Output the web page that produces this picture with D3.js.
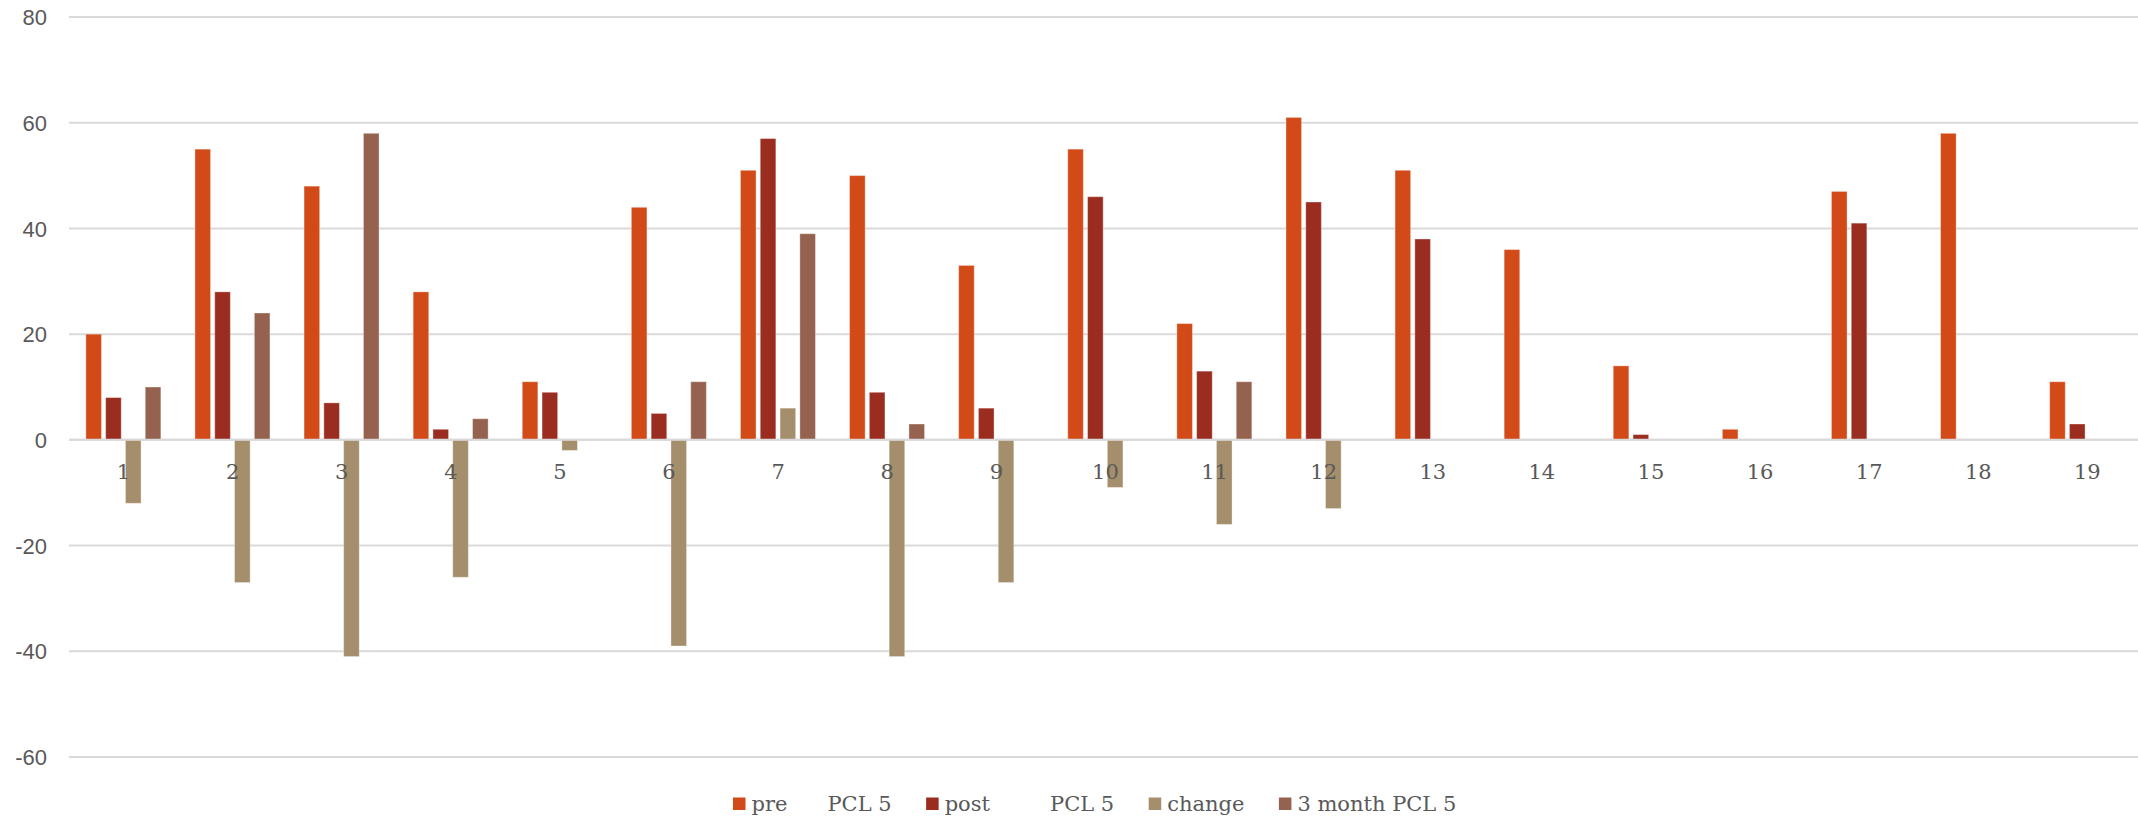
<!DOCTYPE html>
<html>
<head>
<meta charset="utf-8">
<script src="https://cdn.jsdelivr.net/npm/d3@7"></script>
<style>
  html, body { margin: 0; padding: 0; background: #ffffff; }
  svg { display: block; }
  .legend text { white-space: pre; }
</style>
</head>
<body>
<svg id="chart" width="2138" height="818"></svg>
<script>
// Category labels along the x axis
const categories = ["1","2","3","4","5","6","7","8","9","10","11","12","13","14","15","16","17","18","19"];

// Series values per category (null = no value recorded)
const prePCL5   = [20, 55, 48, 28, 11, 44, 51, 50, 33, 55, 22, 61, 51, 36, 14, 2, 47, 58, 11];
const postPCL5  = [8, 28, 7, 2, 9, 5, 57, 9, 6, 46, 13, 45, 38, null, 1, null, 41, null, 3];
const change    = [-12, -27, -41, -26, -2, -39, 6, -41, -27, -9, -16, -13, null, null, null, null, null, null, null];
const month3PCL5 = [10, 24, 58, 4, null, 11, 39, 3, null, null, 11, null, null, null, null, null, null, null, null];

// Series names as shown in the legend
const seriesNames = ["pre      PCL 5", "post         PCL 5", "change", "3 month PCL 5"];
const seriesColors = ["#d34a19", "#9b2c20", "#a48e6b", "#956250"];

// Y axis tick values
const yTicks = [-60, -40, -20, 0, 20, 40, 60, 80];

const seriesValues = [prePCL5, postPCL5, change, month3PCL5];
const keys = d3.range(seriesNames.length);

const svg = d3.select("#chart");

const plotLeft = 69;
const step = 109.1;
const plotRight = plotLeft + step * categories.length;

const x0 = d3.scaleBand()
  .domain(categories)
  .range([plotLeft, plotRight])
  .paddingInner(0)
  .paddingOuter(0);

// Bars inside each category group
const groupWidth = 75;
const groupStart = x0.bandwidth() / 2 - 37.7;
const x1 = d3.scaleBand()
  .domain(keys)
  .range([groupStart, groupStart + groupWidth])
  .paddingInner(0.212)
  .paddingOuter(0);

const y = d3.scaleLinear()
  .domain([-60, 80])
  .range([757, 17]);

// Horizontal gridlines
svg.append("g")
  .selectAll("line")
  .data(yTicks)
  .join("line")
  .attr("x1", plotLeft)
  .attr("x2", plotRight)
  .attr("y1", d => y(d))
  .attr("y2", d => y(d))
  .attr("stroke", "#d9d9d9")
  .attr("stroke-width", 2);

// Y axis labels (plain hyphen for negatives)
const yAxis = d3.axisLeft(y).tickValues(yTicks).tickFormat(d => String(d)).tickSize(0).tickPadding(0);
const yG = svg.append("g")
  .attr("transform", `translate(${47},0)`)
  .call(yAxis);
yG.select(".domain").remove();
yG.selectAll("text")
  .attr("fill", "#595959")
  .style("font-family", "'Liberation Sans', Arial, sans-serif")
  .style("font-size", "22px")
  .attr("dy", "0.35em");

// Bars
const groups = svg.append("g")
  .selectAll("g")
  .data(categories)
  .join("g")
  .attr("transform", d => `translate(${x0(d)},0)`);

groups.selectAll("rect")
  .data((c, i) => keys
    .map(k => ({ k, v: seriesValues[k][i] }))
    .filter(d => d.v !== null))
  .join("rect")
  .attr("x", d => x1(d.k))
  .attr("width", x1.bandwidth())
  .attr("y", d => y(Math.max(0, d.v)))
  .attr("height", d => Math.abs(y(d.v) - y(0)))
  .attr("fill", d => seriesColors[d.k])
  .attr("stroke", "#ffffff")
  .attr("stroke-opacity", 0.35)
  .attr("stroke-width", 1);

// Zero line drawn over bars
svg.append("line")
  .attr("x1", plotLeft)
  .attr("x2", plotRight)
  .attr("y1", y(0))
  .attr("y2", y(0))
  .attr("stroke", "#d9d9d9")
  .attr("stroke-width", 2);

// Category labels
const xAxis = d3.axisBottom(x0).tickSize(0).tickPadding(0);
const xG = svg.append("g")
  .attr("transform", `translate(0,${479})`)
  .call(xAxis);
xG.select(".domain").remove();
xG.selectAll("text")
  .attr("y", 0)
  .attr("dy", 0)
  .attr("fill", "#595959")
  .style("font-family", "'DejaVu Serif', serif")
  .style("font-size", "21px");

// Legend
const legend = svg.append("g").attr("class", "legend");
let lx = 733;
seriesNames.forEach((name, i) => {
  legend.append("rect")
    .attr("x", lx)
    .attr("y", 797.5)
    .attr("width", 12.5)
    .attr("height", 12.5)
    .attr("fill", seriesColors[i]);
  const t = legend.append("text")
    .attr("x", lx + 18.5)
    .attr("y", 811)
    .attr("fill", "#595959")
    .style("font-family", "'DejaVu Serif', serif")
    .style("font-size", "21px")
    .attr("xml:space", "preserve")
    .text(name);
  lx = lx + 18.5 + t.node().getComputedTextLength() + 34.5;
});
</script>
</body>
</html>
